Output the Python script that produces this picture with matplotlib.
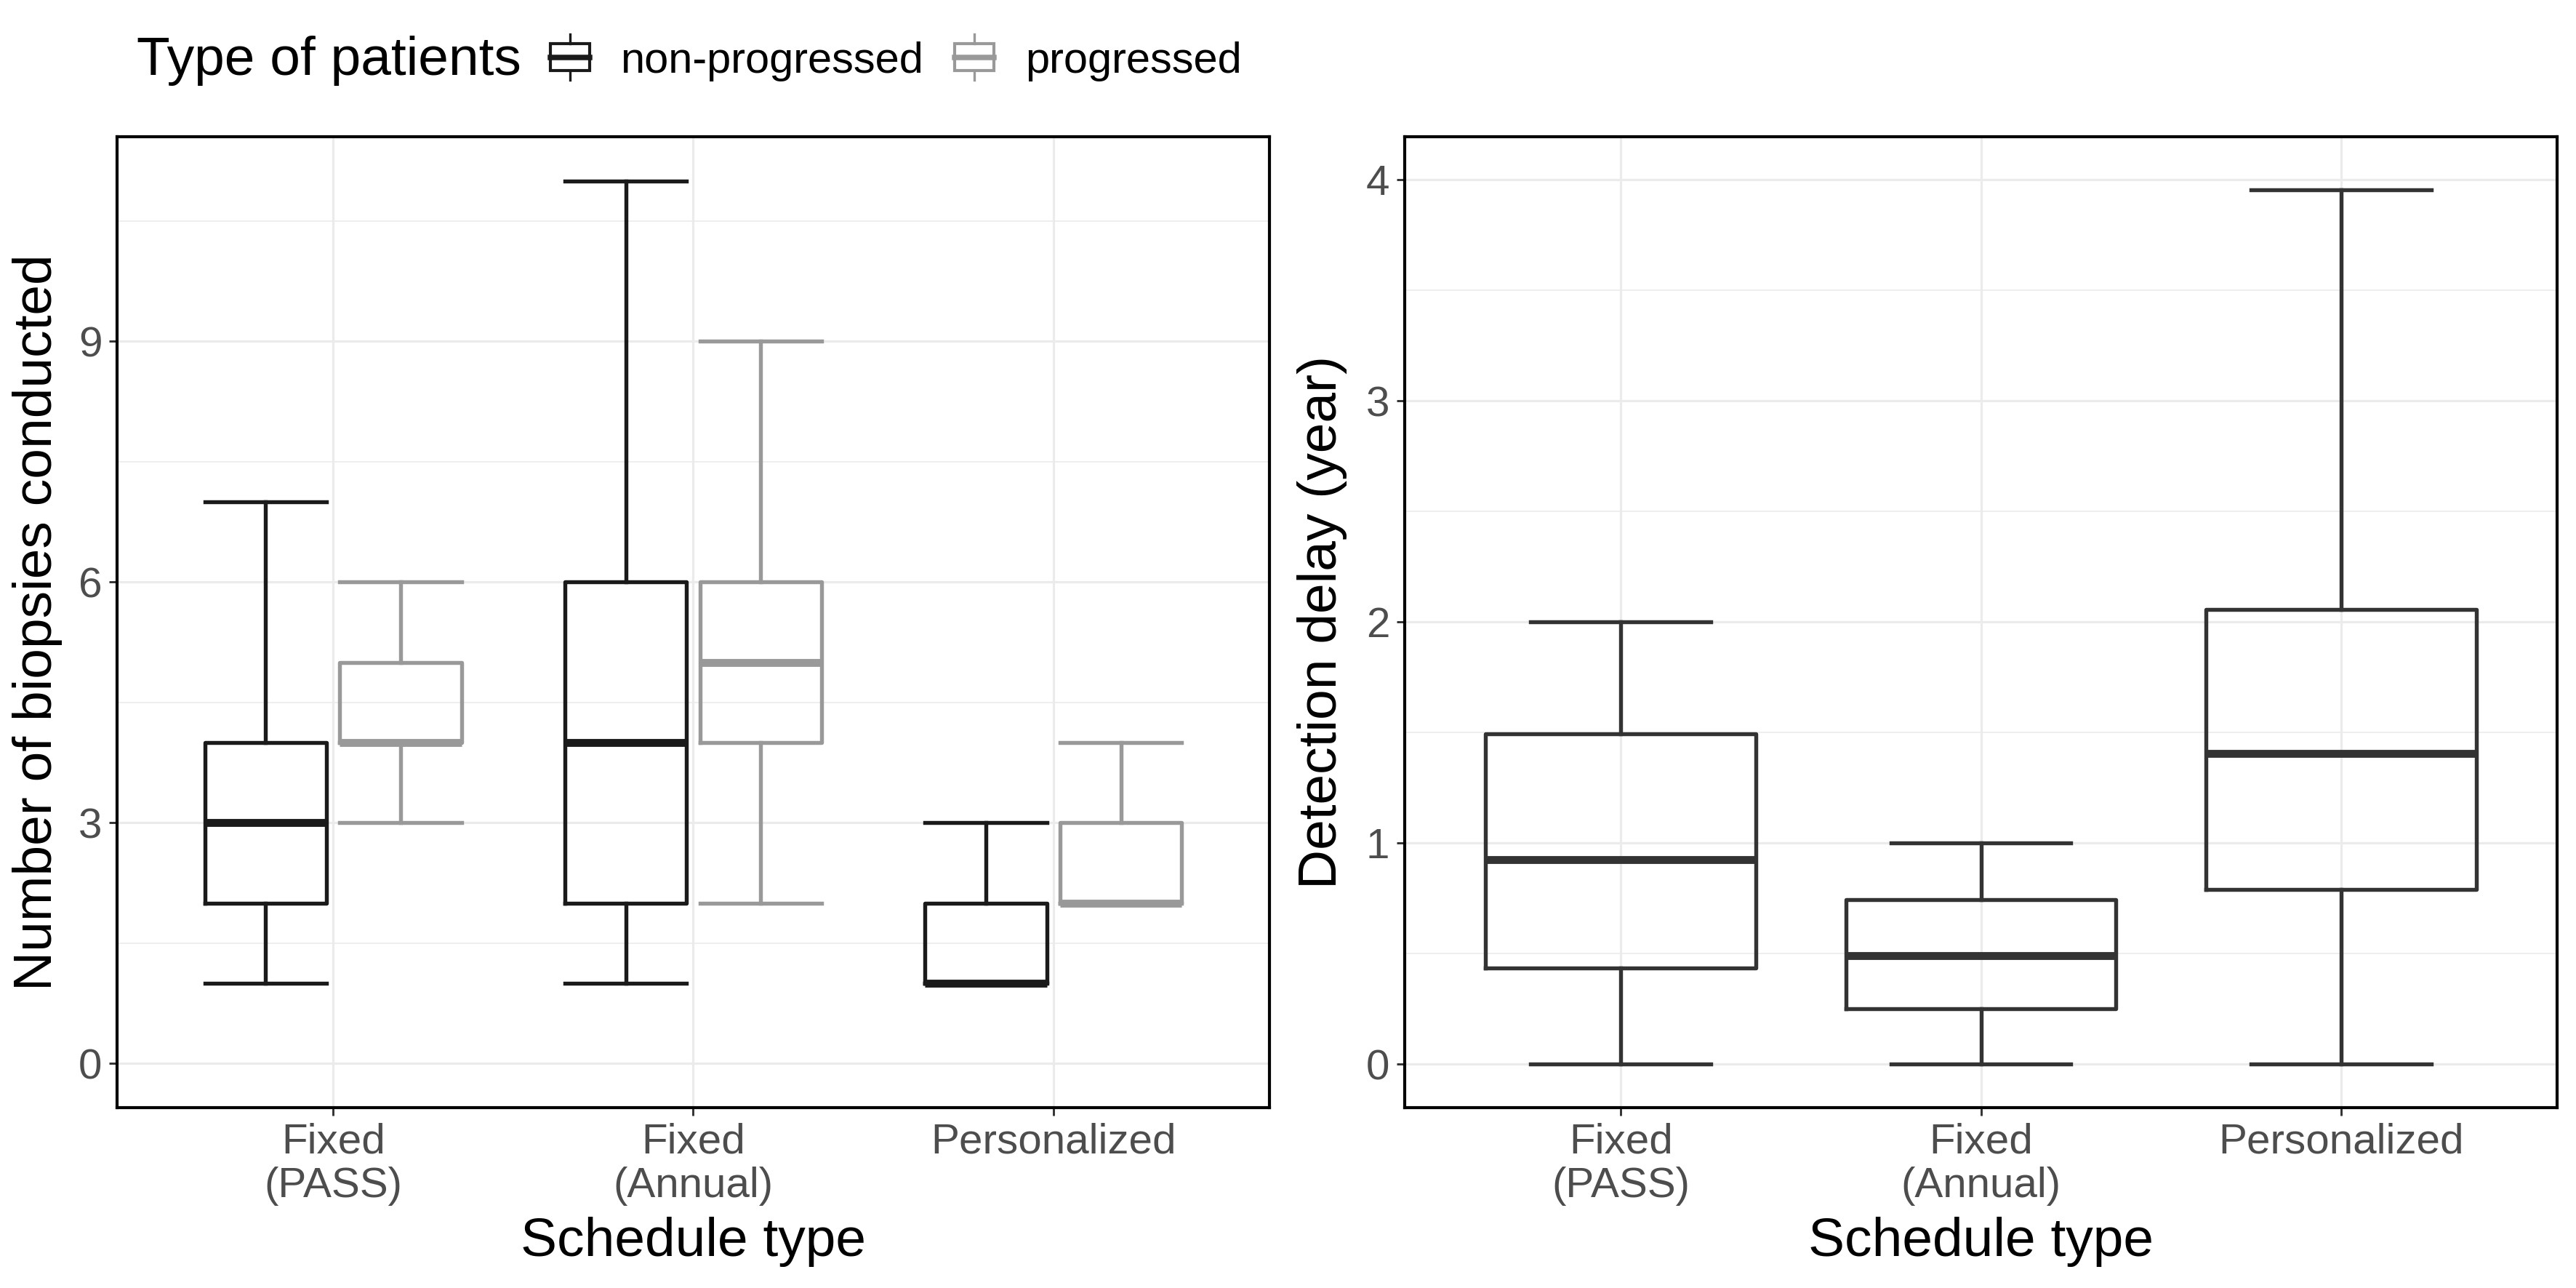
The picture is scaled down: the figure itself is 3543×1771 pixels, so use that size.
import matplotlib
matplotlib.use("Agg")
import matplotlib.pyplot as plt
from matplotlib.legend_handler import HandlerBase
from matplotlib.patches import Rectangle, Patch
from matplotlib.lines import Line2D
from matplotlib.ticker import MultipleLocator

plt.rcParams['font.family'] = ['Liberation Sans', 'DejaVu Sans']

# --- data ---
categories = ["Fixed\n(PASS)", "Fixed\n(Annual)", "Personalized"]
patient_types = ["non-progressed", "progressed"]

# number of biopsies, non-progressed patients
nb_np_lo = [1, 1, 1]
nb_np_q1 = [2, 2, 1]
nb_np_med = [3, 4, 1]
nb_np_q3 = [4, 6, 2]
nb_np_hi = [7, 11, 3]

# number of biopsies, progressed patients
nb_p_lo = [3, 2, 2]
nb_p_q1 = [4, 4, 2]
nb_p_med = [4, 5, 2]
nb_p_q3 = [5, 6, 3]
nb_p_hi = [6, 9, 4]

# detection delay (years)
dd_lo = [0.0, 0.0, 0.0]
dd_q1 = [0.435, 0.25, 0.79]
dd_med = [0.925, 0.49, 1.405]
dd_q3 = [1.495, 0.745, 2.055]
dd_hi = [2.0, 1.0, 3.955]

COL_NP = "#1a1a1a"
COL_P = "#999999"
COL_DD = "#333333"
LW = 1.3


def make_stats(lo, q1, med, q3, hi):
    return [dict(whislo=a, q1=b, med=c, q3=d, whishi=e, fliers=[])
            for a, b, c, d, e in zip(lo, q1, med, q3, hi)]


def draw_box(ax, stats, pos, width, capw, color):
    ax.bxp(stats, positions=pos, widths=width, capwidths=capw,
           showfliers=False, patch_artist=False, manage_ticks=False,
           boxprops=dict(color=color, lw=LW),
           whiskerprops=dict(color=color, lw=LW),
           capprops=dict(color=color, lw=LW),
           medianprops=dict(color=color, lw=2 * LW, solid_capstyle="butt"))


def style_axes(ax, ylim, major, minor):
    ax.set_xlim(0.4, 3.6)
    ax.set_ylim(*ylim)
    ax.set_xticks([1, 2, 3])
    ax.set_xticklabels(categories, linespacing=1.15)
    ax.yaxis.set_major_locator(MultipleLocator(major))
    ax.yaxis.set_minor_locator(MultipleLocator(minor))
    ax.grid(True, which="major", color="#ebebeb", lw=0.75, zorder=0)
    ax.grid(True, which="minor", axis="y", color="#ebebeb", lw=0.4, zorder=0)
    ax.set_axisbelow(True)
    ax.tick_params(which="major", length=2.75, width=0.7, color="#333333",
                   labelsize=14, labelcolor="#4d4d4d", pad=2.2)
    ax.tick_params(which="minor", length=0)
    for s in ax.spines.values():
        s.set_color("black")
        s.set_linewidth(1.0)
    ax.set_xlabel("Schedule type", fontsize=18)
    ax.xaxis.set_label_coords(0.5, -0.112)


class BoxKey(HandlerBase):
    def create_artists(self, legend, orig, xd, yd, width, height, fontsize, trans):
        c = orig.get_edgecolor()
        x0, y0 = -xd, -yd
        yc = y0 + height / 2
        bh = height * 0.9
        rect = Rectangle((x0, yc - bh / 2), width, bh, fill=False, ec=c, lw=1.0, transform=trans)
        med = Line2D([x0, x0 + width], [yc, yc], color=c, lw=1.8, transform=trans)
        xm = x0 + width / 2
        w1 = Line2D([xm, xm], [yc + bh / 2, yc + bh / 2 + height * 0.3], color=c, lw=0.8, transform=trans)
        w2 = Line2D([xm, xm], [yc - bh / 2, yc - bh / 2 - height * 0.3], color=c, lw=0.8, transform=trans)
        return [rect, med, w1, w2]


fig = plt.figure(figsize=(3543 / 300, 1771 / 300), dpi=300)
ax1 = fig.add_axes([161 / 3543, 1 - 1523 / 1771, 1585 / 3543, 1335 / 1771])
ax2 = fig.add_axes([1932 / 3543, 1 - 1523 / 1771, 1585 / 3543, 1335 / 1771])

# left panel: biopsies, dodged by patient type
x = [1, 2, 3]
bw = 0.3375
off = 0.1875
draw_box(ax1, make_stats(nb_np_lo, nb_np_q1, nb_np_med, nb_np_q3, nb_np_hi),
         [v - off for v in x], bw, bw, COL_NP)
draw_box(ax1, make_stats(nb_p_lo, nb_p_q1, nb_p_med, nb_p_q3, nb_p_hi),
         [v + off for v in x], bw, bw, COL_P)
style_axes(ax1, (-0.55, 11.55), 3, 1.5)
ax1.set_ylabel("Number of biopsies conducted", fontsize=18)
ax1.yaxis.set_label_coords(-0.0473, 0.5)

# right panel: detection delay
draw_box(ax2, make_stats(dd_lo, dd_q1, dd_med, dd_q3, dd_hi), x, 0.75, 0.5, COL_DD)
style_axes(ax2, (-0.197, 4.194), 1, 0.5)
ax2.set_ylabel("Detection delay (year)", fontsize=18)
ax2.yaxis.set_label_coords(-0.0498, 0.5)

# legend on top
fig.text(188 / 3543, 1 - 84 / 1771, "Type of patients", fontsize=18, va="center", ha="left")
handles = [Patch(facecolor="none", edgecolor=COL_NP), Patch(facecolor="none", edgecolor=COL_P)]
fig.legend(handles, patient_types, loc="center left",
           bbox_to_anchor=(757 / 3543, 1 - 84 / 1771), ncol=2, frameon=False,
           fontsize=14.3, borderaxespad=0, borderpad=0, handlelength=0.9,
           handleheight=0.7, handletextpad=0.72, columnspacing=0.72,
           handler_map={Patch: BoxKey()})

fig.savefig("out.png", dpi=300)
